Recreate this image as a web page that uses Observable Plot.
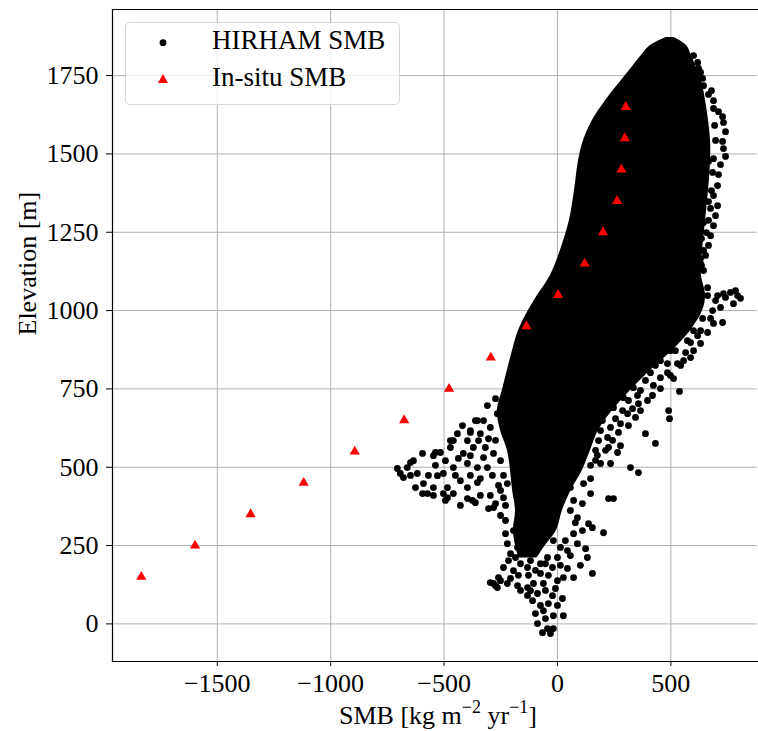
<!DOCTYPE html>
<html><head><meta charset="utf-8">
<script src="https://cdn.jsdelivr.net/npm/d3@7"></script>
<script src="https://cdn.jsdelivr.net/npm/@observablehq/plot@0.6"></script>
<style>
body{margin:0;background:#fff;}
#wrap{position:relative;width:758px;height:731px;font-family:"Liberation Serif",serif;color:#000;overflow:hidden;}
#legend{position:absolute;left:125px;top:22px;width:273px;height:81px;border:1px solid #d8d8d8;border-radius:5px;background:rgba(255,255,255,0.8);}
#legend .lt{position:absolute;left:86px;font-size:27px;line-height:27px;white-space:nowrap;}
#xlabel{position:absolute;top:700px;left:438px;transform:translateX(-50%);font-size:26px;line-height:31px;white-space:nowrap;}
#xlabel sup{font-size:18px;line-height:0;vertical-align:0;position:relative;top:-11px;}
</style></head>
<body><div id="wrap"></div>
<script>
// Tick values
const xTicks = [-1500, -1000, -500, 0, 500];
const yTicks = [0, 250, 500, 750, 1000, 1250, 1500, 1750];

// In-situ SMB (red triangles)
const insituElev = [150, 250, 350, 450, 550, 650, 750, 850, 950, 1050, 1150, 1250, 1350, 1450, 1550, 1650];
const insituSMB = [-1835, -1598, -1353, -1119, -894, -676, -478, -294, -137, 3, 120, 201, 263, 282, 297, 301];

// HIRHAM SMB: saturated core of overlapping points (left / right SMB edge per elevation)
const coreElev = [1872, 1846, 1814, 1782, 1734, 1670, 1607, 1543, 1479, 1383, 1288, 1192, 1112, 1048, 1000, 936, 873, 809, 745, 681, 617, 554, 490, 426, 362, 298, 250, 210];
const coreLeft = [480, 410, 370, 335, 282, 212, 154, 115, 93, 75, 53, 13, -31, -88, -128, -172, -198, -221, -243, -265, -251, -221, -207, -198, -185, -194, -185, -170];
const coreRight = [515, 569, 591, 609, 635, 653, 666, 675, 675, 666, 653, 640, 635, 653, 640, 587, 507, 410, 322, 243, 181, 146, 110, 60, 22, -4, -53, -90];

// HIRHAM SMB: individual points outside the saturated core
const hirhamSMB = [
 644, 666, 688, 710, 728, 732, 741, 728, 732, 741, 719, 710, 706, 688, 706, 697, 688, 675, 666, 653, 635, 622, 635, 653, 666, 653, 666, 644, 635, 618, 631,
 679, 688, 693, 697, 688, 684, 679, 675, 666, 657, 644, 631, 600, 622, 640,
 763, 794, 776, 732, 706, 662, 719, 684, 728, 688, 640, 662, 631, 600, 573, 556, 529, 512, 538, 485, 490, 494, 454, 423, 397, 357, 344, 309, 278, 234, 198, 221, 181, 388, 432, 265, 225, 454, 423, 498, 529, 600, 397, 366, 335, 291, 247, 573, 618, 644, 631, 600, 631, 662, 697, 741, 807, 785,
 565, 543, 454, 476, 410, 520, 432, 322, 278, 256, 366, 190, 168, 168, 146,
 618, 587, 507, 468, 565, 485, 410, 388, 353, 313, 331, 287, 256, 366, 313, 269, 243, 190, 159, 212, 176, 146, 278, 419, 454, 498, 543, 587, 631, 675,
 322, 357, 190, 234, 225, 247, 146, 203, 137, 154, 132, 154, 71, 88, 44, 71, 26, -22, 22, 26, -18, -62, -44, -18, -66, -88, -97, -110, -119, -88, -62, -75, 0, -22, 0, -44, -75, -132, -163, -194, -238, -251, -282, -296, -265, -221, -176, -132, -106, -207, -221, -176, -132, -88, -229, -194, -150, -106, -62, -18, 13, 88, 110, 71, 115, 57, -260, -273,
 -216, -185, -119, -53, -97, -40, -128, -172, -207, 13, 44, 101, 124, 110, 57, -53, -9, -40, -75, 0, -53, -31, -132, -163, 57, 79, 35,
 -693, -662, -635, -595, -547, -516, -472, -441, -459, -397, -384, -353, -326, -340, -296, -265, -371, -415, -326, -282, -251, -503, -459, -397, -353, -309, -591, -547, -485, -459, -503, -573, -397, -353, -375, -296, -282, -304, -428, -529, -618, -679, -221, -238, -706, -648, -538, -472, -384, -362, -595, -547, -485, -397, -362, -273, -309, -273,
 -494, -437, -384, -318, -348, -419, -304, -273, -287, -260, -340, -428, -494, -538, -569, -626, -648, -450, -384, -340, -238, -251, -229, -251, -229
];
const hirhamElev = [
 1718, 1690, 1670, 1635, 1619, 1600, 1571, 1540, 1517, 1492, 1466, 1434, 1399, 1367, 1335, 1303, 1271, 1239, 1208, 1176, 1144, 1658, 1616, 1562, 1476, 1421, 1348, 1281, 1230, 1792, 1760,
 1702, 1645, 1591, 1543, 1485, 1441, 1383, 1326, 1288, 1249, 1192, 1166, 1814, 1773, 1741,
 1058, 1048, 1022, 1054, 1048, 1048, 1010, 1000, 962, 959, 975, 930, 895, 872, 904, 840, 831, 783, 742, 802, 681, 655, 786, 761, 713, 703, 659, 671, 639, 627, 649, 595, 585, 607, 576, 547, 563, 840, 882, 872, 914, 936, 840, 799, 754, 722, 690, 1118, 1105, 1128, 1150, 1073, 1064, 1073, 1032, 1042, 1039, 1064,
 968, 936, 905, 936, 857, 872, 825, 777, 745, 713, 745, 681, 554, 522, 464,
 920, 898, 895, 873, 866, 831, 802, 777, 729, 713, 687, 681, 655, 681, 633, 611, 586, 617, 627, 554, 538, 506, 569, 729, 751, 793, 825, 850, 936, 975,
 499, 483, 512, 512, 400, 400, 416, 291, 320, 307, 212, 161, 288, 256, 234, 148, 148, 90, 81, 26, 26, 42, -15, -15, -28, 1, 33, 74, 106, 97, 129, 161, 138, 180, 212, 212, 192, 180, 192, 170, 180, 138, 129, 132, 116, 129, 122, 116, 129, 224, 256, 244, 234, 244, 288, 298, 288, 275, 288, 266, 244, 339, 384, 394, 448, 435, 148, 122,
 202, 212, 202, 192, 171, 155, 155, 155, 145, 187, 177, 187, 240, 298, 218, 107, 113, 65, 59, 59, 17, -31, 91, 107, 362, 323, 266,
 480, 499, 521, 544, 537, 547, 563, 607, 585, 585, 617, 649, 649, 607, 627, 671, 563, 544, 531, 544, 521, 480, 499, 512, 499, 499, 448, 435, 435, 416, 416, 416, 435, 451, 394, 410, 371, 368, 457, 473, 480, 467, 448, 403, 496, 515, 547, 585, 611, 649, 416, 410, 403, 400, 387, 384, 697, 719,
 521, 528, 537, 563, 585, 633, 591, 586, 474, 442, 410, 378, 394, 506, 474, 435, 474, 474, 474, 464, 474, 426, 378, 346, 330
];

const insitu = insituSMB.map((s, i) => ({smb: s, elev: insituElev[i]}));
const core = coreElev.map((e, i) => ({elev: e, left: coreLeft[i], right: coreRight[i]}));
const hirham = hirhamSMB.map((s, i) => ({smb: s, elev: hirhamElev[i]}));

const font = "Liberation Serif";
const fmt = d3.format("d");

const chart = Plot.plot({
  width: 758, height: 700,
  marginLeft: 112, marginRight: 1, marginTop: 9, marginBottom: 39,
  style: {fontFamily: font, fontSize: "26px", background: "white", color: "black", overflow: "visible"},
  x: {domain: [-1962, 882]},
  y: {domain: [-120, 1961]},
  marks: [
    Plot.gridX(xTicks, {stroke: "#b0b0b0", strokeOpacity: 1, strokeWidth: 1}),
    Plot.gridY(yTicks, {stroke: "#b0b0b0", strokeOpacity: 1, strokeWidth: 1}),
    Plot.areaX(core, {y: "elev", x1: "left", x2: "right", fill: "black", curve: "catmull-rom"}),
    Plot.dot(hirham, {x: "smb", y: "elev", r: 3.4, fill: "black"}),
    Plot.dot(insitu, {x: "smb", y: "elev", symbol: "triangle", r: 3.8, fill: "red"}),
    Plot.axisX(xTicks, {tickSize: 5, tickPadding: 7, fontSize: 26, tickFormat: fmt, label: null}),
    Plot.axisY(yTicks, {tickSize: 6, tickPadding: 8, fontSize: 26, tickFormat: fmt, label: null}),
    Plot.frame({anchor: "left", strokeWidth: 1.2}),
    Plot.frame({anchor: "top", strokeWidth: 1.2}),
    Plot.frame({anchor: "bottom", strokeWidth: 1.2}),
    Plot.text(["Elevation [m]"], {text: d => d, frameAnchor: "left", dx: -85, rotate: -90, fontSize: 26})
  ]
});

const wrap = document.getElementById("wrap");
wrap.appendChild(chart);

const legend = document.createElement("div");
legend.id = "legend";
legend.innerHTML = `<svg width="273" height="81" style="position:absolute;left:0;top:0">
  <circle cx="37" cy="19.7" r="3.4" fill="black"></circle>
  <path d="M37,51.1L42.1,59.9L31.9,59.9Z" fill="red"></path></svg>
  <div class="lt" style="top:4.4px">HIRHAM SMB</div>
  <div class="lt" style="top:41.4px">In-situ SMB</div>`;
wrap.appendChild(legend);

const xl = document.createElement("div");
xl.id = "xlabel";
xl.innerHTML = "SMB [kg m<sup>\u22122</sup> yr<sup>\u22121</sup>]";
wrap.appendChild(xl);
</script>
</body></html>
